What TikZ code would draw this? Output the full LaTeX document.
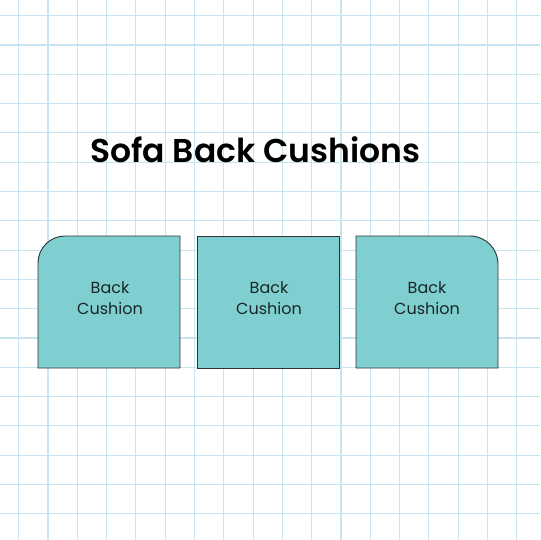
\documentclass[tikz,border=0pt]{standalone}
\usepackage{fontspec}
\setmainfont{Poppins}[BoldFont={* SemiBold}]
\definecolor{gridblue}{HTML}{C8E4F0}
\definecolor{cushfill}{HTML}{80CFD0}
\definecolor{cushline}{HTML}{2E3436}
\definecolor{labeltext}{HTML}{1A2626}
\tikzset{
  gridline/.style={draw=gridblue, line width=1.1pt},
  cushion/.style={draw=cushline, fill=cushfill, line width=0.9pt},
  cushlabel/.style={align=center, font=\fontsize{16}{21.5}\selectfont, text=labeltext, inner sep=0pt},
  titletext/.style={font=\fontsize{33}{40}\selectfont\bfseries, text=black, inner sep=0pt}
}
\begin{document}
\begin{tikzpicture}[x=1pt,y=-1pt]
\useasboundingbox (0,0) rectangle (540,540);
\fill[white] (0,0) rectangle (540,540);
\foreach \k in {-1,...,18} {
  \draw[gridline] ({18.7+29.3*\k},0) -- ({18.7+29.3*\k},540);
  \draw[gridline] (0,{15.7+29.3*\k}) -- (540,{15.7+29.3*\k});
}
\node[titletext, anchor=base west] (title) at (90,162) {Sofa Back Cushions};
% left cushion: rounded top-left
\draw[cushion] (38,368) -- (38,263) arc[start angle=180, end angle=270, radius=27] -- (180,236) -- (180,368) -- cycle;
% middle cushion
\draw[cushion] (197,236) rectangle (339,368);
% right cushion: rounded top-right
\draw[cushion] (356,368) -- (356,236) -- (470,236) arc[start angle=270, end angle=360, radius=28] -- (498,368) -- cycle;
\node[cushlabel] (l1) at (110,298) {Back\\Cushion};
\node[cushlabel] (l2) at (269,298) {Back\\Cushion};
\node[cushlabel] (l3) at (427,298) {Back\\Cushion};
\end{tikzpicture}
\end{document}
